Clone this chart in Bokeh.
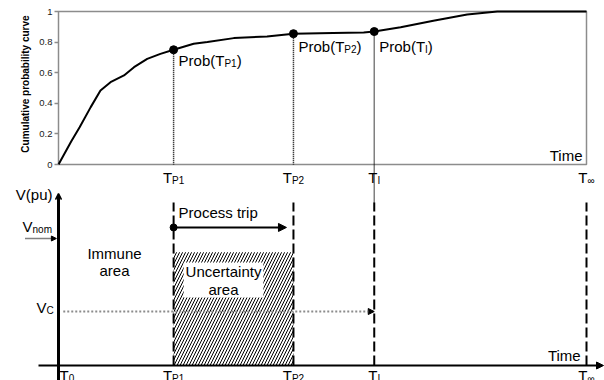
import math
from bokeh.plotting import figure
from bokeh.models import (Range1d, LinearAxis, FixedTicker, Label, Arrow,
                          NormalHead, OpenHead)
from bokeh.embed import file_html
from bokeh.resources import INLINE

# ---------------- data ----------------
curve_t = [0, 2.4, 4.0, 6.1, 7.95, 9.85, 12.4, 14.3, 16.8, 19.3, 21.8, 25.6,
           28.2, 33.2, 39.5, 44.5, 52.0, 57.8, 59.8, 64.8, 71.0, 77.4, 83.1, 90.0, 100.0]
curve_p = [0, 0.15, 0.244, 0.375, 0.484, 0.538, 0.582, 0.636, 0.69, 0.723, 0.75, 0.789,
           0.80, 0.826, 0.837, 0.855, 0.86, 0.863, 0.869, 0.897, 0.94, 0.98, 1.0, 1.0, 1.0]

tick_t = [0, 21.8, 44.5, 59.8, 100]          # T0, TP1, TP2, TI, Tinf
tick_sub = ["0", "P1", "P2", "I", "∞"]

mark_t = [21.8, 44.5, 59.8]
mark_p = [0.75, 0.855, 0.869]
mark_sub = ["P1", "P2", "I"]

prob_ticks = [0, 0.2, 0.4, 0.6, 0.8, 1]
prob_tick_labels = ["0", "0.2", "0.4", "0.6", "0.8", "1"]

V_NOM = 1.0
V_C = 0.425
UNCERT_TOP = 0.892
TRIP_V = 1.087
DASH_TOP = 1.283
AXIS_TOP = 1.354

# ---------------- layout constants ----------------
PX_T = 5.28     # px per time unit
PX_P = 153.0    # px per probability unit
PX_V = 127.0    # px per pu
BL = 5.5        # baseline correction, px
FONT = "Liberation Sans"
W = {"T": .611, "P": .667, "1": .556, "2": .556, "I": .278, "0": .556, "∞": .713,
     "r": .333, "o": .556, "b": .556, "(": .333, ")": .333, "n": .556, "m": .833,
     "V": .667, "C": .722}


def tw(s, size):
    return sum(W.get(c, 0.556) for c in s) * size


p = figure(width=604, height=380,
           x_range=Range1d(-58 / PX_T, (604 - 58) / PX_T),
           y_range=Range1d(1 - (380 - 11) / PX_P, 1 + 11 / PX_P),
           output_backend="svg", toolbar_location=None,
           x_axis_location=None, y_axis_location=None,
           min_border_left=0, min_border_right=0, min_border_top=0, min_border_bottom=0)
p.extra_y_ranges = {"v": Range1d(-(380 - 365) / PX_V, 365 / PX_V)}
p.outline_line_color = None
p.background_fill_color = "white"
p.border_fill_color = "white"
p.grid.visible = False

yax = LinearAxis(ticker=FixedTicker(ticks=prob_ticks), fixed_location=0,
                 major_label_overrides={t: s for t, s in zip(prob_ticks, prob_tick_labels)})
yax.axis_line_color = None
yax.major_tick_in = 0
yax.major_tick_out = 4
yax.major_tick_line_color = "#8c8c8c"
yax.major_tick_line_width = 1.5
yax.minor_tick_line_color = None
yax.major_label_standoff = 2
yax.major_label_text_font = FONT
yax.major_label_text_font_size = "9.5px"
yax.major_label_text_color = "#1a1a1a"
p.add_layout(yax, "left")


def lab(text, x, y, size=15, align="left", xo=0, rng="default", bold=False,
        angle=0, baseline="alphabetic", color="black"):
    if baseline == "alphabetic":
        y = y + BL / (PX_P if rng == "default" else PX_V)
    p.add_layout(Label(x=x, y=y, x_offset=xo, text=text, text_font=FONT,
                       text_font_size=f"{size}px", text_align=align,
                       text_baseline=baseline, y_range_name=rng, text_color=color,
                       text_font_style="bold" if bold else "normal", angle=angle))


def sub_text(main, sub, x, y, ppu, rng, xo, tail=""):
    lab(main, x, y, 15, xo=xo, rng=rng)
    xs = xo + tw(main, 15)
    lab(sub, x, y - 3 / ppu, 10, xo=xs, rng=rng)
    if tail:
        lab(tail, x, y, 15, xo=xs + tw(sub, 10), rng=rng)


# ---------------- top chart ----------------
p.quad(left=0, right=100, bottom=0, top=1, fill_color=None,
       line_color="#8c8c8c", line_width=1.5)
p.line(curve_t, curve_p, line_color="black", line_width=2)
p.segment(x0=mark_t, y0=mark_p, x1=mark_t, y1=[0, 0, 1 - (202 - 11) / PX_P],
          line_color="black", line_width=1.5, line_dash="1 1")
p.scatter(mark_t, mark_p, size=8, color="black")

for t, s, yb in zip(mark_t, mark_sub, [0.644, 0.734, 0.734]):
    sub_text("Prob(T", s, t, yb, PX_P, "default", 5, tail=")")

for t, s in zip(tick_t[1:], tick_sub[1:]):
    total = tw("T", 15) + tw(s, 10)
    sub_text("T", s, t, -0.124, PX_P, "default", -total / 2)

lab("Time", 100, 0.026, 15, align="right", xo=-4)
lab("Cumulative probability curve", 0, 0.526, 10, align="center", xo=-33.5,
    bold=True, angle=math.pi / 2, baseline="middle")

# ---------------- bottom diagram ----------------
p.quad(left=tick_t[1], right=tick_t[2], bottom=0, top=UNCERT_TOP, y_range_name="v",
       fill_color=None, line_color=None, hatch_pattern="/", hatch_color="black",
       hatch_scale=6, hatch_weight=1.0)
p.quad(left=23.7, right=38.8, bottom=0.535, top=0.811, y_range_name="v",
       fill_color="white", line_color=None)
p.segment(x0=tick_t[1:], y0=[0] * 4, x1=tick_t[1:], y1=[DASH_TOP] * 4, y_range_name="v",
          line_color="black", line_width=2, line_dash="10 4")

# V_C dotted gray line
p.add_layout(Arrow(x_start=0.9, y_start=V_C, x_end=tick_t[3], y_end=V_C, y_range_name="v",
                   line_color="#8c8c8c", line_width=2, line_dash="2 2",
                   end=NormalHead(size=6, fill_color="black", line_color="black")))
# V_nom dotted arrow
p.add_layout(Arrow(x_start=-33 / PX_T, y_start=V_NOM, x_end=-0.4, y_end=V_NOM,
                   y_range_name="v", line_color="black", line_width=1.5, line_dash="1 1",
                   end=NormalHead(size=5, fill_color="black", line_color="black")))
# process trip arrow
p.add_layout(Arrow(x_start=tick_t[1], y_start=TRIP_V, x_end=tick_t[2] - 7 / PX_T,
                   y_end=TRIP_V, y_range_name="v", line_color="black", line_width=2,
                   end=NormalHead(size=8, fill_color="black", line_color="black")))
p.scatter([tick_t[1]], [TRIP_V], y_range_name="v", size=7, color="black")

# axes of the diagram
p.add_layout(Arrow(x_start=-20 / PX_T, y_start=0, x_end=(603 - 58) / PX_T, y_end=0,
                   y_range_name="v", line_color="black", line_width=2,
                   end=NormalHead(size=7, fill_color="black", line_color="black")))
p.add_layout(Arrow(x_start=0, y_start=-0.12, x_end=0, y_end=AXIS_TOP, y_range_name="v",
                   line_color="black", line_width=3,
                   end=OpenHead(size=6, line_color="black", line_width=1.5)))

# texts
lab("Process trip", tick_t[1], 1.16, 15, xo=5, rng="v")
lab("Immune", 10.6, 0.837, 15, align="center", rng="v")
lab("area", 10.6, 0.703, 15, align="center", rng="v")
lab("Uncertainty", 31.25, 0.693, 15, align="center", rng="v")
lab("area", 31.25, 0.557, 15, align="center", rng="v")
lab("Time", 98.9, 0.039, 15, align="right", rng="v")
lab("V(pu)", 0, 1.30, 15, align="right", xo=-6, rng="v")
sub_text("V", "nom", 0, 1.048, PX_V, "v", -36)
sub_text("V", "C", 0, 0.417, PX_V, "v", -22)

sub_text("T", tick_sub[0], tick_t[0], -0.12, PX_V, "v", 1)
for t, s in zip(tick_t[1:], tick_sub[1:]):
    total = tw("T", 15) + tw(s, 10)
    sub_text("T", s, t, -0.12, PX_V, "v", -total / 2)

open("out.html", "w").write(file_html(p, INLINE))
